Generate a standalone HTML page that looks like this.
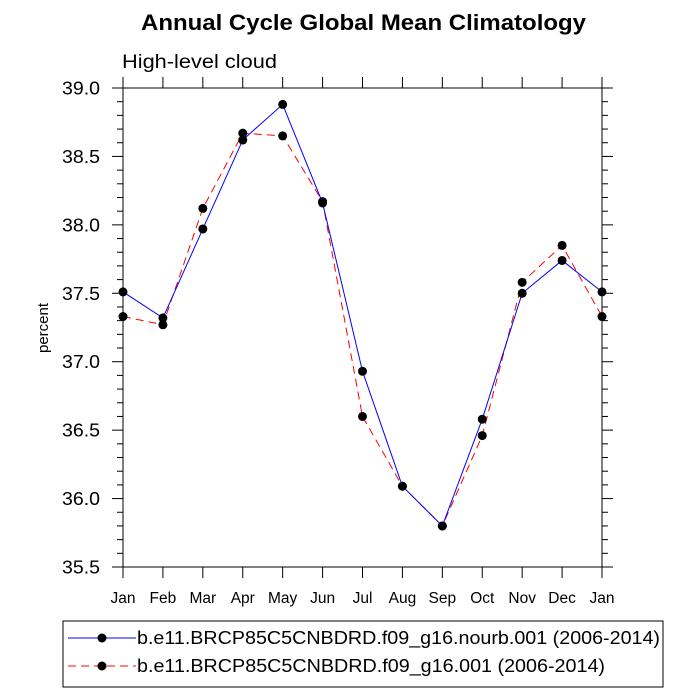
<!DOCTYPE html>
<html><head><meta charset="utf-8"><style>
html,body{margin:0;padding:0;background:#fff;width:700px;height:700px;overflow:hidden}
svg{font-family:"Liberation Sans",Arial,sans-serif}
</style></head><body>
<svg id="chart" width="700" height="700">
<text x="141" y="30" font-size="22" font-weight="bold" textLength="445" lengthAdjust="spacingAndGlyphs">Annual Cycle Global Mean Climatology</text>
<text x="122" y="68" font-size="19" textLength="155" lengthAdjust="spacingAndGlyphs">High-level cloud</text>
<text transform="translate(48,328) rotate(-90)" text-anchor="middle" font-size="15">percent</text>
<g id="axes"></g>
<g id="series"></g>
<g id="legend">
<rect x="63" y="621" width="600" height="66" fill="none" stroke="#000" stroke-width="1"/>
<g>
<line x1="68" y1="638" x2="136" y2="638" stroke="#0000ff" stroke-width="1"/>
<circle cx="102" cy="638" r="4.5" fill="#000"/>
<text x="137" y="644" font-size="18" textLength="523" lengthAdjust="spacingAndGlyphs">b.e11.BRCP85C5CNBDRD.f09_g16.nourb.001 (2006-2014)</text>
</g>
<g>
<line x1="68" y1="666" x2="136" y2="666" stroke="#ff0000" stroke-width="1" stroke-dasharray="8,5"/>
<circle cx="102" cy="666" r="4.5" fill="#000"/>
<text x="137" y="672" font-size="18" textLength="468" lengthAdjust="spacingAndGlyphs">b.e11.BRCP85C5CNBDRD.f09_g16.001 (2006-2014)</text>
</g>
</g>
</svg>
<script>
const months = ["Jan","Feb","Mar","Apr","May","Jun","Jul","Aug","Sep","Oct","Nov","Dec","Jan"];
const nourbValues = [37.51,37.32,37.97,38.62,38.88,38.16,36.93,36.09,35.80,36.58,37.50,37.74,37.51];
const baseValues = [37.33,37.27,38.12,38.67,38.65,38.17,36.60,36.09,35.80,36.46,37.58,37.85,37.33];
const yTicks = ["35.5","36.0","36.5","37.0","37.5","38.0","38.5","39.0"];

const X0=123,X1=602,Y0=567,Y1=88,YMIN=35.5,YMAX=39.0;
const xs=i=>X0+(X1-X0)*i/(months.length-1);
const ys=v=>Y0-(Y0-Y1)*(v-YMIN)/(YMAX-YMIN);
const NS="http://www.w3.org/2000/svg";
function mk(tag,attrs,parent){const e=document.createElementNS(NS,tag);for(const k in attrs)e.setAttribute(k,attrs[k]);parent.appendChild(e);return e;}
const axes=document.getElementById('axes');
const frame=mk('rect',{x:X0,y:Y1,width:X1-X0,height:Y0-Y1,fill:'none',stroke:'#000','stroke-width':1},axes);


for(let v=YMIN;v<=YMAX+1e-6;v+=0.1){
  const y=ys(v);const major=Math.abs((v*2)-Math.round(v*2))<1e-6;const L=major?11:6;
  const t1=mk('line',{x1:X0-L,y1:y,x2:X0,y2:y,stroke:'#000'},axes);
  
  
  const t2=mk('line',{x1:X1,y1:y,x2:X1+L,y2:y,stroke:'#000'},axes);
  
  
}
yTicks.forEach(s=>{
  const t=mk('text',{x:X0-23,y:ys(parseFloat(s))+6.5,'text-anchor':'end','font-size':18.5,textLength:38,lengthAdjust:'spacingAndGlyphs'},axes);
  t.textContent=s;
  
  
});
months.forEach((m,i)=>{
  const x=xs(i);
  const a=mk('line',{x1:x,y1:Y0,x2:x,y2:Y0+11,stroke:'#000'},axes);
  
  
  const b=mk('line',{x1:x,y1:Y1-11,x2:x,y2:Y1,stroke:'#000'},axes);
  
  
  const t=mk('text',{x:x,y:Y0+36,'text-anchor':'middle','font-size':15.5},axes);
  t.textContent=m;
  
  
});
const ser=document.getElementById('series');
function draw(vals,color,dash,name){
  const g=mk('g',{},ser);
  
  
  const p=mk('polyline',{points:vals.map((v,i)=>xs(i)+','+ys(v)).join(' '),fill:'none',stroke:color,'stroke-width':1},g);
  if(dash)p.setAttribute('stroke-dasharray',dash);
  
  
  vals.forEach((v,i)=>{
    const c=mk('circle',{cx:xs(i),cy:ys(v),r:4.5,fill:'#000'},g);
    
    
  });
}
draw(baseValues,'#ff0000','8,5','series-001');
draw(nourbValues,'#0000ff',null,'series-nourb');
</script>
</body></html>
